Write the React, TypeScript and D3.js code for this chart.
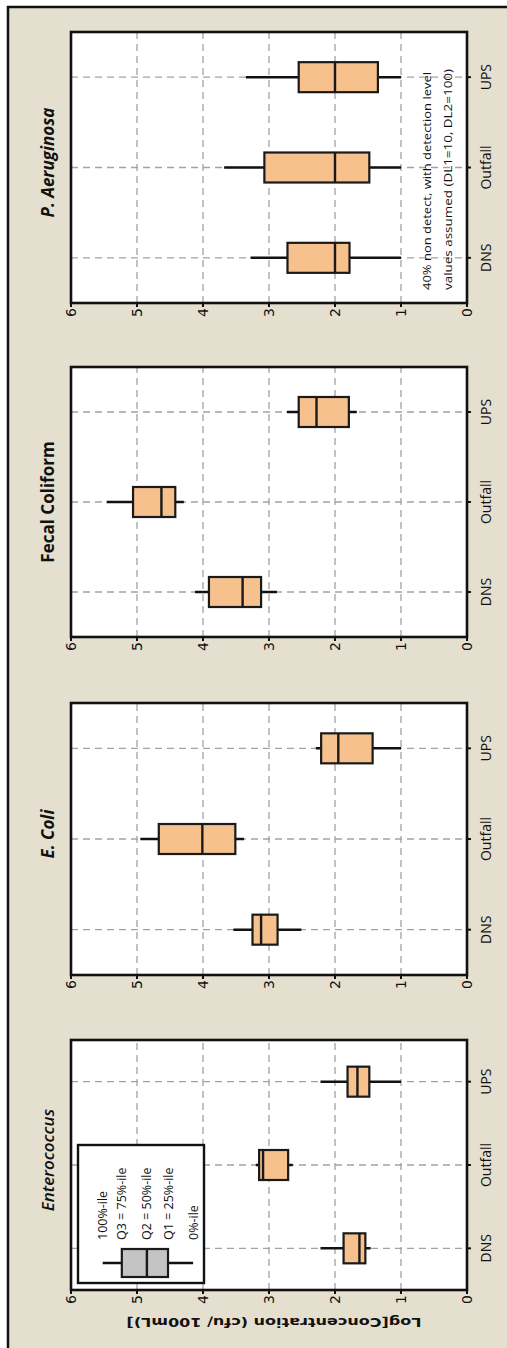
import React from 'react';
import * as d3 from 'd3';

const categories = ['DNS', 'Outfall', 'UPS'];
const panelTitles = ['Enterococcus', 'E. Coli', 'Fecal Coliform', 'P. Aeruginosa'];
const valueTicks = [0, 1, 2, 3, 4, 5, 6];
const gridValues = [1, 2, 3, 4, 5];
// each row: [min, q1, median, q3, max] for DNS, Outfall, UPS
const enterococcus = [[1.46, 1.54, 1.63, 1.87, 2.22], [2.64, 2.71, 3.09, 3.15, 3.2], [1.0, 1.48, 1.66, 1.81, 2.22]];
const eColi = [[2.51, 2.87, 3.12, 3.25, 3.54], [3.38, 3.51, 4.01, 4.67, 4.95], [1.0, 1.43, 1.95, 2.21, 2.29]];
const fecalColiform = [[2.88, 3.12, 3.4, 3.91, 4.12], [4.29, 4.42, 4.63, 5.06, 5.46], [1.67, 1.79, 2.28, 2.55, 2.73]];
const pAeruginosa = [[1.0, 1.78, 2.0, 2.72, 3.28], [1.0, 1.48, 2.0, 3.07, 3.68], [1.0, 1.35, 2.0, 2.55, 3.35]];
const legendStats = [4.15, 4.53, 4.85, 5.23, 5.52];
const legendLabels = ['0%-ile', 'Q1 = 25%-ile', 'Q2 = 50%-ile', 'Q3 = 75%-ile', '100%-ile'];
const noteLines = ['40% non detect, with detection level', 'values assumed (DL1=10, DL2=100)'];
const axisTitle = 'Log[Concentration (cfu/ 100mL)]';

const W = 507;
const H = 1348;
const PLOT_TOP = 71;
const PLOT_BOTTOM = 467;
const FONT = "'Open Sans', 'DejaVu Sans', sans-serif";
const BOX_FILL = '#f6c18d';

const panelLayout = [
  { x0: 58, x1: 308, italic: true, weight: 600, data: enterococcus },
  { x0: 373, x1: 645, italic: true, weight: 700, data: eColi },
  { x0: 711, x1: 981, italic: false, weight: 700, data: fecalColiform },
  { x0: 1045, x1: 1316, italic: true, weight: 700, data: pAeruginosa },
];

const yScale = d3.scaleLinear().domain([0, 6]).range([PLOT_BOTTOM, PLOT_TOP]);

function BoxPlot({ cx, s, width, fill }: { cx: number; s: number[]; width: number; fill: string }) {
  const [mn, q1, md, q3, mx] = s;
  return (
    <g>
      <line x1={cx} x2={cx} y1={yScale(mn)} y2={yScale(mx)} stroke="#111" strokeWidth={2.5} />
      <rect x={cx - width / 2} y={yScale(q3)} width={width} height={yScale(q1) - yScale(q3)} fill={fill} stroke="#1a1a1a" strokeWidth={2.2} />
      <line x1={cx - width / 2} x2={cx + width / 2} y1={yScale(md)} y2={yScale(md)} stroke="#1a1a1a" strokeWidth={2.4} />
    </g>
  );
}

function Panel({ idx }: { idx: number }) {
  const p = panelLayout[idx];
  const xScale = d3.scalePoint<string>().domain(categories).range([p.x0, p.x1]).padding(0.5);
  const cxMid = (p.x0 + p.x1) / 2;
  return (
    <g>
      <rect x={p.x0} y={PLOT_TOP} width={p.x1 - p.x0} height={PLOT_BOTTOM - PLOT_TOP} fill="#fff" />
      {gridValues.map((v) => (
        <line key={'h' + v} x1={p.x0} x2={p.x1} y1={yScale(v)} y2={yScale(v)} stroke="#a3a3a3" strokeWidth={1.3} strokeDasharray="7,5" />
      ))}
      {categories.map((c) => (
        <line key={'v' + c} x1={xScale(c)} x2={xScale(c)} y1={PLOT_TOP} y2={PLOT_BOTTOM} stroke="#a3a3a3" strokeWidth={1.3} strokeDasharray="7,5" />
      ))}
      {idx === 0 && (
        <g>
          <rect x={p.x0 + 7} y={PLOT_TOP + 7} width={138} height={126} fill="#fff" stroke="#111" strokeWidth={2.4} />
          <BoxPlot cx={p.x0 + 27} s={legendStats} width={28} fill="#c4c4c4" />
          {legendLabels.map((t, i) => (
            <text key={t} x={p.x0 + 50} y={yScale(legendStats[i]) + 4.5} fontSize={12.5} fontFamily={FONT} fill="#111">{t}</text>
          ))}
        </g>
      )}
      {p.data.map((s, i) => (
        <BoxPlot key={categories[i]} cx={xScale(categories[i]) as number} s={s} width={30} fill={BOX_FILL} />
      ))}
      {idx === 3 && noteLines.map((t, i) => (
        <text key={t} x={p.x0 + 13} y={431 + i * 21} fontSize={11.5} fontFamily={FONT} fill="#111" textLength={i === 0 ? 218 : 221} lengthAdjust="spacingAndGlyphs">{t}</text>
      ))}
      <rect x={p.x0} y={PLOT_TOP} width={p.x1 - p.x0} height={PLOT_BOTTOM - PLOT_TOP} fill="none" stroke="#111" strokeWidth={2.6} />
      {valueTicks.map((v) => (
        <g key={'t' + v}>
          <line x1={p.x0 - 4} x2={p.x0} y1={yScale(v)} y2={yScale(v)} stroke="#111" strokeWidth={2} />
          <text x={p.x0 - 5} y={yScale(v) + 5} textAnchor="end" fontSize={14} fontFamily="'DejaVu Sans', sans-serif" fill="#111">{v}</text>
        </g>
      ))}
      {categories.map((c) => (
        <g key={'c' + c}>
          <line x1={xScale(c)} x2={xScale(c)} y1={PLOT_BOTTOM} y2={PLOT_BOTTOM + 4} stroke="#111" strokeWidth={2} />
          <text x={xScale(c)} y={491} textAnchor="middle" fontSize={14} fontFamily={FONT} fill="#111">{c}</text>
        </g>
      ))}
      <text x={cxMid + (p.italic ? 5 : 0)} y={54} textAnchor="middle" fontSize={17} fontStyle={p.italic ? 'italic' : 'normal'} fontWeight={p.weight} fontFamily={FONT} fill="#111">{panelTitles[idx]}</text>
    </g>
  );
}

export default function App() {
  return (
    <svg width={W} height={H} style={{ position: 'absolute', left: 0, top: 0, background: '#fff' }}>
      <rect x={8} y={7} width={W - 8} height={H - 7} fill="#e5dfcf" />
      <line x1={8} x2={8} y1={6} y2={H} stroke="#111" strokeWidth={2.5} />
      <line x1={7} x2={W} y1={7} y2={7} stroke="#111" strokeWidth={2.5} />
      <g transform={`translate(0,${H}) rotate(-90)`}>
        {panelLayout.map((_, i) => (
          <Panel key={i} idx={i} />
        ))}
        <text transform={`translate(30,${(PLOT_TOP + PLOT_BOTTOM) / 2 + 5}) rotate(-90)`} textAnchor="middle" fontSize={13} fontWeight={700} fontFamily="'DejaVu Sans', sans-serif" fill="#111" textLength={295} lengthAdjust="spacingAndGlyphs">{axisTitle}</text>
      </g>
    </svg>
  );
}
